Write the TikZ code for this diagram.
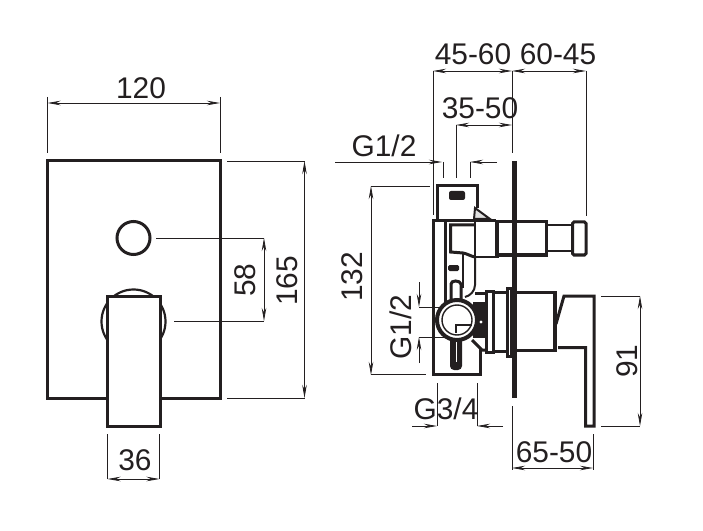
\documentclass[tikz,border=0pt]{standalone}
\usepackage{fontspec}
\setmainfont{Liberation Sans}
\usetikzlibrary{arrows.meta}
\definecolor{ink}{HTML}{231F20}
\tikzset{
  thick line/.style={draw=ink,line width=3bp,line join=miter},
  mid line/.style={draw=ink,line width=2bp},
  thin line/.style={draw=ink,line width=0.8bp},
  dim/.style={draw=ink,line width=0.8bp,{Stealth[length=13bp,width=4.5bp,fill=ink]}-{Stealth[length=13bp,width=4.5bp,fill=ink]}},
  dimend/.style={draw=ink,line width=0.8bp,-{Stealth[length=13bp,width=4.5bp,fill=ink]}},
  label/.style={text=ink,font=\fontsize{30}{30}\selectfont,inner sep=0pt},
}
\begin{document}
\begin{tikzpicture}[x=1bp,y=-1bp]
\useasboundingbox (0,0) rectangle (703,531);
% ---- front view
\draw[thick line] (47,161) rectangle (220,398);
\draw[thick line] (133.5,238) circle (16.5);
\draw[draw=ink,line width=2.2bp] (133.5,321.5) circle (32);
\draw[thick line,fill=white] (107.5,296) rectangle (160,426);
% dims front
\draw[dim] (47.5,103) -- (220,103);
\draw[thin line] (47.5,97) -- (47.5,153) (220,97) -- (220,153);
\node[label] (t120) at (141,88) {120};
\draw[dim] (304.5,161) -- (304.5,398);
\draw[thin line] (227,161) -- (304.5,161) (227,398) -- (304.5,398);
\node[label,rotate=90] (t165) at (287,281) {165};
\draw[dim] (264,238) -- (264,321);
\draw[thin line] (156,238) -- (264,238) (174,321) -- (264,321);
\node[label,rotate=90] (t58) at (245,280) {58};
\draw[dim] (107.5,479) -- (159.5,479);
\draw[thin line] (107.5,434) -- (107.5,479) (159.5,434) -- (159.5,479);
\node[label] (t36) at (135,460) {36};
% ---- side view: plate
\draw[draw=ink,line width=5bp] (514,161) -- (514,398);
% top box
\draw[thick line] (437,219) -- (437,186) -- (477,186) -- (477,208);
\fill[ink,rounded corners=2bp] (449,191) rectangle (465,200);
\draw[mid line,fill=black!12] (475,208) -- (490,219) -- (474,219) -- cycle;
% body outer
\draw[thick line] (433,320) -- (433,221) -- (496,221);
\draw[thick line] (445,221) -- (445,305);
\draw[thick line] (433,320) -- (433,374) -- (480,374) -- (480,349);
% inner valve
\draw[thick line] (475,225) -- (450.5,225) -- (450.5,252) -- (463,253) .. controls (468,254) and (470,256) .. (475,257);
\draw[mid line] (475,220) -- (475,257) -- (496,257) -- (496,221);
\draw[draw=ink,line width=4bp] (497,220) -- (497,258);
% stem
\draw[thick line] (499,222) -- (546,222) -- (546,255) -- (499,255);
\draw[mid line] (546,225.5) -- (572,225.5);
\draw[mid line] (546,251.5) -- (572,251.5);
\draw[thick line,rounded corners=1.5bp] (572.5,222) rectangle (586,255);
% inside details
\fill[ink,rounded corners=1.5bp] (448,265) rectangle (459,271);
\draw[mid line] (463,253) -- (463,288);
\draw[mid line] (475,257) -- (475,285) .. controls (475,291) and (470,296) .. (465,297);
\draw[draw=ink,line width=3bp] (451,300) -- (451,284) .. controls (451,280) and (460,280) .. (461,284) -- (461,300);
% lower slot
\fill[ink,rounded corners=4bp] (450,335) rectangle (462,370);
\draw[draw=white,line width=1bp] (456,340) -- (456,362);
% hub
\fill[ink] (473,302) rectangle (486,338);
\draw[thick line] (475,293) -- (486,293);
\draw[thick line] (472,340) -- (482,350) -- (486,350);
\fill[white] (481,322) circle (1.6);
% circle
\fill[white] (457,320) circle (21);
\draw[draw=ink,line width=4bp] (457,320) circle (20);
\draw[draw=ink,line width=1.4bp] (457,320) circle (15);
\draw[draw=ink,line width=1.6bp] (472,325) -- (456,325) -- (456,333);
% collars
\draw[thick line] (486,291) rectangle (493,352);
\draw[thick line] (493,292.5) -- (507,292.5);
\draw[thick line] (493,351) -- (507,351);
\draw[thick line] (507.5,288) rectangle (511,356);
% body
\draw[thick line] (516,292.5) -- (554,292.5);
\draw[thick line] (516,350.5) -- (554,350.5);
\draw[draw=ink,line width=3.5bp] (555,291) -- (555,352);
% handle
\draw[thick line] (558,347.5) -- (585.5,347.5) -- (585.5,426) -- (594,426) -- (594,296) -- (564,296) -- (556,324);
% dims side
\draw[dim] (433,71) -- (512,71);
\draw[dim] (512,71) -- (586,71);
\draw[thin line] (433,71) -- (433,215) (512,71) -- (512,153) (586,71) -- (586,216);
\node[label] (t4560) at (473,54) {45-60};
\node[label] (t6045) at (558,54) {60-45};
\draw[dim] (456,125) -- (512,125);
\draw[thin line] (456,125) -- (456,178);
\node[label] (t3550) at (480,108) {35-50};
\coordinate (ga) at (335,162); \coordinate (gb) at (442,162);
\coordinate (gc) at (497,162); \coordinate (gd) at (470,162);
\draw[dimend] (ga) -- (gb);
\draw[dimend] (gc) -- (gd);
\draw[thin line] (443,162) -- (443,178) (470,162) -- (470,178);
\node[label] (tg12) at (384,146) {G1/2};
\draw[dim] (371,186) -- (371,375);
\draw[thin line] (371,186) -- (430,186) (371,374.5) -- (426,374.5);
\node[label,rotate=90] (t132) at (352,277) {132};
\coordinate (va) at (419,282); \coordinate (vb) at (419,307);
\coordinate (vc) at (419,363); \coordinate (vd) at (419,337);
\draw[dimend] (va) -- (vb);
\draw[dimend] (vc) -- (vd);
\draw[thin line] (419,307) -- (442,307) (419,337) -- (450,337);
\node[label,rotate=90] (tv12) at (401,327) {G1/2};
\coordinate (ha) at (412,426); \coordinate (hb) at (437,426);
\coordinate (hc) at (503,426); \coordinate (hd) at (477,426);
\draw[dimend] (ha) -- (hb);
\draw[dimend] (hc) -- (hd);
\draw[thin line] (437,383) -- (437,426) (477,383) -- (477,426);
\node[label] (tg34) at (446,409) {G3/4};
\draw[dim] (640,296) -- (640,426);
\draw[thin line] (601,296) -- (640,296) (601,426) -- (640,426);
\node[label,rotate=90] (t91) at (627,361) {91};
\draw[dim] (512,468) -- (593,468);
\draw[thin line] (512,406) -- (512,470) (593,434) -- (593,470);
\node[label] (t6550) at (554,452) {65-50};
\end{tikzpicture}
\end{document}
